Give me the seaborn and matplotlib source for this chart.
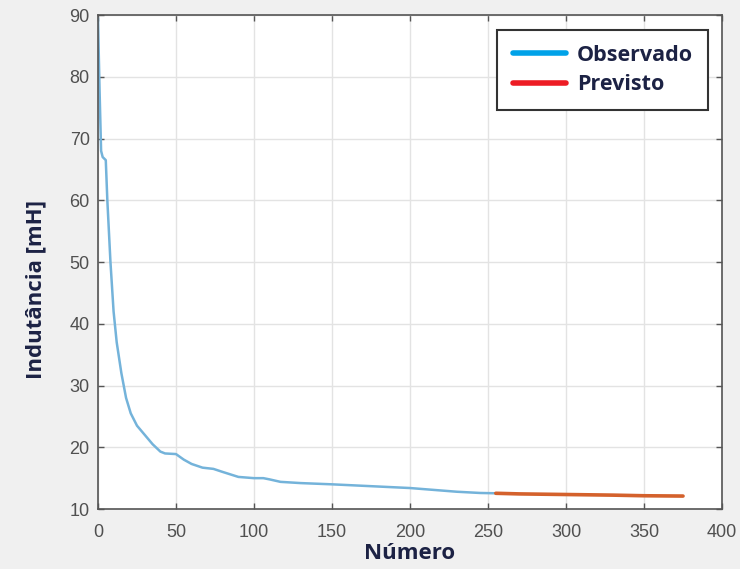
import matplotlib
matplotlib.use("Agg")
import matplotlib.pyplot as plt
from matplotlib.lines import Line2D
import seaborn as sns
import pandas as pd

# Observed inductance values
obs_x = [0, 1, 2, 3, 5, 6, 8, 10, 12, 15, 18, 21, 25, 30, 35, 40, 43, 50, 55, 60,
         67, 74, 80, 90, 100, 106, 110, 117, 130, 150, 175, 200, 215, 230, 245, 255]
obs_y = [89.5, 78, 68, 67, 66.5, 60, 50, 42, 37, 32, 28, 25.5, 23.5, 22, 20.5, 19.3,
         19.0, 18.9, 18.0, 17.3, 16.7, 16.5, 16.0, 15.2, 15.0, 15.0, 14.8, 14.4, 14.2,
         14.0, 13.7, 13.4, 13.1, 12.8, 12.6, 12.55]

# Forecast values
prev_x = [255, 270, 300, 330, 350, 375]
prev_y = [12.55, 12.45, 12.35, 12.25, 12.15, 12.1]

x_ticks = [0, 50, 100, 150, 200, 250, 300, 350, 400]
y_ticks = [10, 20, 30, 40, 50, 60, 70, 80, 90]
labels = ["Observado", "Previsto"]

sns.set_theme(style="whitegrid")
plt.rcParams["font.family"] = ["Liberation Sans", "DejaVu Sans"]

fig = plt.figure(figsize=(7.4, 5.69), dpi=100, facecolor="#f0f0f0")
ax = fig.add_axes([0.1324, 0.1054, 0.8433, 0.8682])
ax.set_facecolor("white")

df_obs = pd.DataFrame({"x": obs_x, "y": obs_y})
df_prev = pd.DataFrame({"x": prev_x, "y": prev_y})
sns.lineplot(data=df_obs, x="x", y="y", ax=ax, color="#74b3da", linewidth=1.8)
sns.lineplot(data=df_prev, x="x", y="y", ax=ax, color="#d4612c", linewidth=2.6)

ax.set_xlim(0, 400)
ax.set_ylim(10, 90)
ax.set_xticks(x_ticks)
ax.set_yticks(y_ticks)
ax.tick_params(axis="both", direction="in", length=4, width=1, colors="#555555",
               labelsize=13, labelcolor="#505050")
ax.tick_params(axis="x", pad=11)
ax.tick_params(axis="y", pad=6)
ax.tick_params(top=True, right=True, bottom=True, left=True)
ax.grid(True, color="#e3e3e3", linewidth=1)
for s in ax.spines.values():
    s.set_color("#555555")
    s.set_linewidth(1.2)

lbl_font = dict(family=["Open Sans", "DejaVu Sans"], weight="bold", size=16, color="#1c2244")
ax.set_xlabel("Número", **lbl_font)
ax.set_ylabel("Indutância [mH]", **lbl_font)
ax.xaxis.set_label_coords(0.5, -0.068)
ax.yaxis.set_label_coords(-0.082, 0.445)

handles = [Line2D([0], [0], color="#00a2e8", linewidth=4),
           Line2D([0], [0], color="#ed1c24", linewidth=4)]
leg = ax.legend(handles, labels, loc="upper right", bbox_to_anchor=(0.978, 0.97),
                borderaxespad=0, frameon=True, fancybox=False, handlelength=2.5,
                handletextpad=0.5, borderpad=0.7, labelspacing=0.38,
                prop=dict(family=["Open Sans", "DejaVu Sans"], weight="bold", size=15.5))
leg.get_frame().set_edgecolor("#333333")
leg.get_frame().set_linewidth(1.5)
leg.get_frame().set_alpha(1)
for t in leg.get_texts():
    t.set_color("#1c2244")

fig.savefig("out.png", dpi=100, facecolor=fig.get_facecolor())
